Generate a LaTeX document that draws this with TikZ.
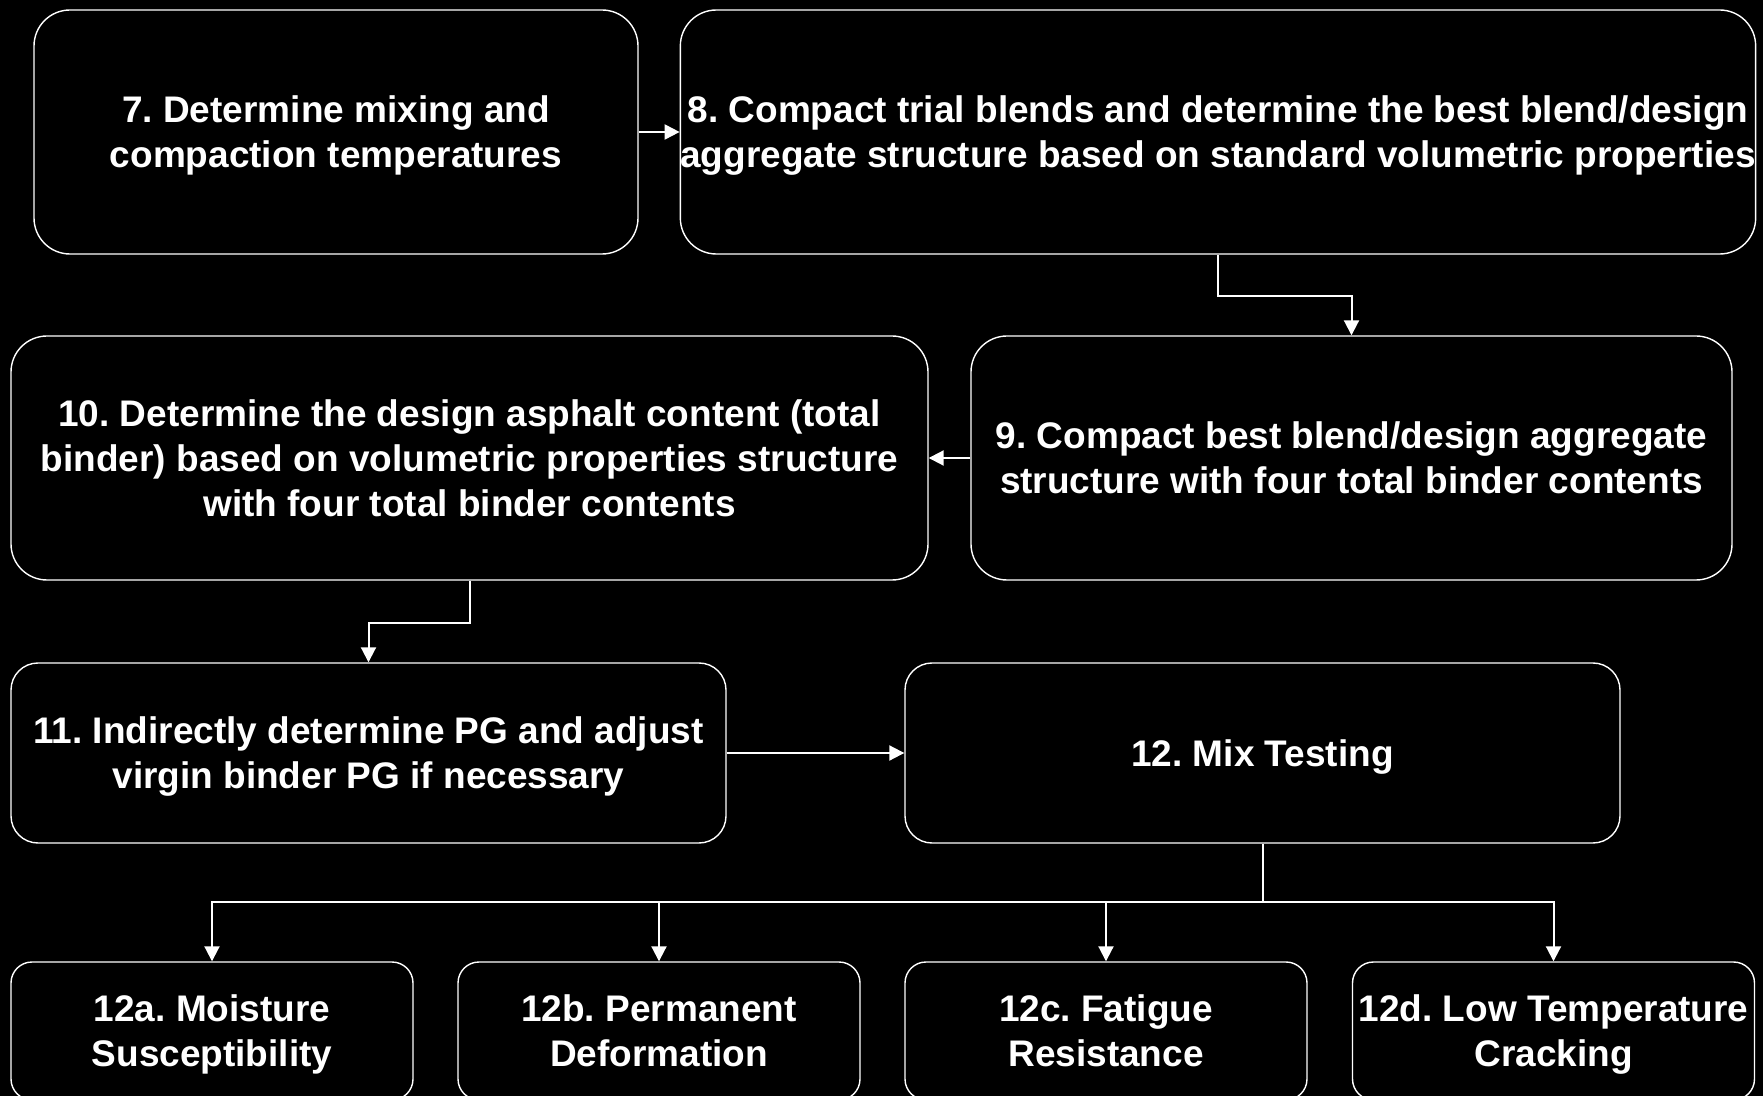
\documentclass[tikz,border=0pt]{standalone}
\usepackage{fontspec}
\setmainfont{Liberation Sans}
\usetikzlibrary{arrows.meta}
\frenchspacing

\tikzset{
    stepbox/.style={draw=white, line width=0.7pt, fill=black, text=white, inner sep=0pt,
        align=center, text depth=-1.5pt, font=\fontsize{18.5}{22.5}\selectfont\bfseries},
    flow/.style={draw=white, line width=1pt, -{Triangle[length=7.5pt,width=7.5pt]}}
}

\begin{document}
\begin{tikzpicture}[x=0.5pt, y=-0.5pt]
    % page
    \fill[black] (0, 0) rectangle (1763, 1096);
    \useasboundingbox (0, 0) rectangle (1763, 1096);

    % first row
    \node[stepbox, minimum width=302pt, minimum height=122pt, rounded corners=18pt] (b7) at (336, 132)
        {7. Determine mixing and\\compaction temperatures};
    \node[stepbox, minimum width=537pt, minimum height=122pt, rounded corners=18pt] (b8) at (1218, 132)
        {8. Compact trial blends and determine the best blend/design\\aggregate structure based on standard volumetric properties};

    % second row
    \node[stepbox, minimum width=458.5pt, minimum height=122pt, rounded corners=18pt] (b10) at (469.5, 458)
        {10. Determine the design asphalt content (total\\binder) based on volumetric properties structure\\with four total binder contents};
    \node[stepbox, minimum width=380.5pt, minimum height=122pt, rounded corners=18pt] (b9) at (1351.5, 458)
        {9. Compact best blend/design aggregate\\structure with four total binder contents};

    % third row
    \node[stepbox, minimum width=357.5pt, minimum height=90pt, rounded corners=13.5pt] (b11) at (368.5, 753)
        {11. Indirectly determine PG and adjust\\virgin binder PG if necessary};
    \node[stepbox, minimum width=357.5pt, minimum height=90pt, rounded corners=13.5pt] (b12) at (1262.5, 753)
        {12. Mix Testing};

    % mix tests
    \node[stepbox, minimum width=201pt, minimum height=69pt, rounded corners=10.5pt] (b12a) at (212, 1031)
        {12a. Moisture\\Susceptibility};
    \node[stepbox, minimum width=201pt, minimum height=69pt, rounded corners=10.5pt] (b12b) at (659, 1031)
        {12b. Permanent\\Deformation};
    \node[stepbox, minimum width=201pt, minimum height=69pt, rounded corners=10.5pt] (b12c) at (1106, 1031)
        {12c. Fatigue\\Resistance};
    \node[stepbox, minimum width=201pt, minimum height=69pt, rounded corners=10.5pt] (b12d) at (1553.5, 1031)
        {12d. Low Temperature\\Cracking};

    % connectors
    \draw[flow] (b7) -- (b8);
    \draw[flow] (b8.south) -- ++(0, 41) -| (b9.north);
    \draw[flow] (b9) -- (b10);
    \draw[flow] (b10.south) -- ++(0, 42) -| (b11.north);
    \draw[flow] (b11) -- (b12);

    \coordinate (split) at (1262.5, 902);
    \draw[white, line width=1pt] (b12.south) -- (split);
    \foreach \t in {a, b, c, d}
        \draw[flow] (split) -| (b12\t.north);
\end{tikzpicture}
\end{document}
